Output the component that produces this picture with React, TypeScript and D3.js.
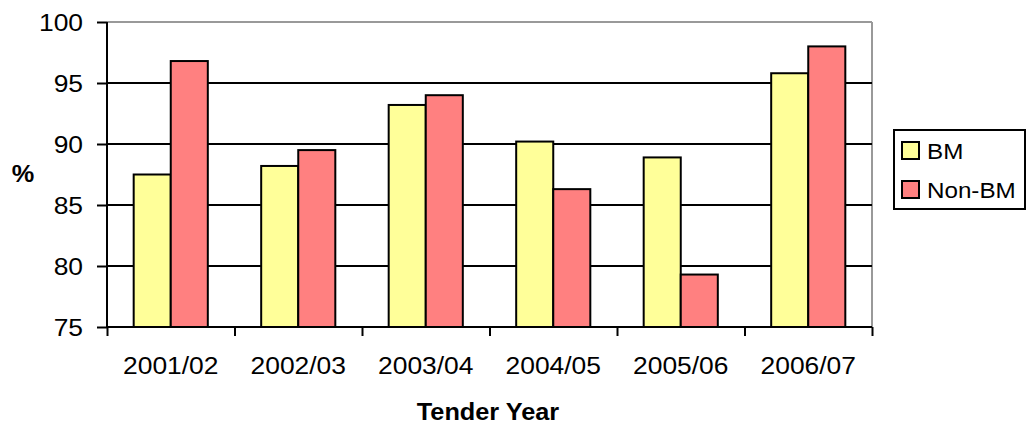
import { useEffect, useMemo, useRef } from "react";
import * as d3 from "d3";

const WIDTH = 1026;
const HEIGHT = 424;
const MARGIN = { top: 22, right: 154, bottom: 97, left: 107 };

const YEARS = ["2001/02", "2002/03", "2003/04", "2004/05", "2005/06", "2006/07"];
const SERIES = ["BM", "Non-BM"];
const BM = [87.5, 88.2, 93.2, 90.2, 88.9, 95.8];
const NON_BM = [96.8, 89.5, 94.0, 86.3, 79.3, 98.0];
const Y_TICKS = [75, 80, 85, 90, 95, 100];
const COLORS = ["#FFFF99", "#FF8080"];

const FONT = "'Liberation Sans', Arial, sans-serif";
// the source text is a little wider than Liberation Sans
const STRETCH = 1.1;

type TextProps = {
  x: number;
  y: number;
  size: number;
  anchor?: "start" | "middle" | "end";
  bold?: boolean;
  children: string;
};

const WideText = ({ x, y, size, anchor = "start", bold, children }: TextProps) => (
  <g transform={`translate(${x},${y}) scale(${STRETCH},1)`}>
    <text
      x={0}
      y={0}
      textAnchor={anchor}
      fontFamily={FONT}
      fontSize={size}
      fontWeight={bold ? "bold" : "normal"}
      fill="#000"
    >
      {children}
    </text>
  </g>
);

const App = () => {
  const xAxisRef = useRef(null);
  const yTickRef = useRef(null);
  const boundsWidth = WIDTH - MARGIN.left - MARGIN.right;
  const boundsHeight = HEIGHT - MARGIN.top - MARGIN.bottom;

  const xScale = useMemo(
    () => d3.scaleBand().domain(YEARS).range([0, boundsWidth]).padding(0),
    [boundsWidth]
  );
  const innerScale = useMemo(
    () =>
      d3
        .scaleBand()
        .domain(SERIES)
        .range([0, xScale.bandwidth()])
        .paddingInner(0)
        .paddingOuter(0.72),
    [xScale]
  );
  const yScale = useMemo(
    () => d3.scaleLinear().domain([75, 100]).range([boundsHeight, 0]),
    [boundsHeight]
  );

  useEffect(() => {
    const yg = d3.select(yTickRef.current);
    yg.selectAll("*").remove();
    yg.call(d3.axisLeft(yScale).tickValues(Y_TICKS).tickSize(10).tickFormat(() => ""));
    yg.select(".domain").remove();
    yg.selectAll(".tick line").attr("stroke", "#000").attr("stroke-width", 2);

    const xg = d3.select(xAxisRef.current);
    xg.selectAll("*").remove();
    const xTickScale = d3
      .scaleLinear()
      .domain([0, YEARS.length])
      .range([0, boundsWidth]);
    xg.call(
      d3
        .axisBottom(xTickScale)
        .tickValues(d3.range(0, YEARS.length + 1))
        .tickSize(9)
        .tickFormat(() => "")
    );
    xg.select(".domain").remove();
    xg.selectAll(".tick line").attr("stroke", "#000").attr("stroke-width", 2);
  }, [xScale, yScale, boundsWidth]);

  const bars = YEARS.flatMap((year, i) =>
    [BM[i], NON_BM[i]].map((v, j) => {
      const x = (xScale(year) ?? 0) + (innerScale(SERIES[j]) ?? 0);
      return (
        <rect
          key={year + j}
          x={x}
          y={yScale(v)}
          width={innerScale.bandwidth()}
          height={boundsHeight - yScale(v)}
          fill={COLORS[j]}
          stroke="#000"
          strokeWidth={2}
        />
      );
    })
  );

  return (
    <svg
      width={WIDTH}
      height={HEIGHT}
      style={{ position: "absolute", left: 0, top: 0, background: "#fff" }}
    >
      <g transform={`translate(${MARGIN.left},${MARGIN.top})`}>
        {/* plot frame, top and right sides grey */}
        <line x1={0} x2={boundsWidth} y1={0} y2={0} stroke="#999" strokeWidth={2} />
        <line x1={boundsWidth} x2={boundsWidth} y1={0} y2={boundsHeight} stroke="#999" strokeWidth={2} />
        {Y_TICKS.filter((t) => t !== 75 && t !== 100).map((t) => (
          <line
            key={t}
            x1={0}
            x2={boundsWidth}
            y1={yScale(t)}
            y2={yScale(t)}
            stroke="#000"
            strokeWidth={2}
          />
        ))}
        {bars}
        <line x1={0} x2={0} y1={0} y2={boundsHeight} stroke="#000" strokeWidth={2} />
        <line x1={0} x2={boundsWidth} y1={boundsHeight} y2={boundsHeight} stroke="#000" strokeWidth={2} />
        <g ref={yTickRef} />
        <g ref={xAxisRef} transform={`translate(0,${boundsHeight})`} />
        {Y_TICKS.map((t) => (
          <WideText key={t} x={-24} y={yScale(t) + 8.5} size={24} anchor="end">
            {String(t)}
          </WideText>
        ))}
        {YEARS.map((year) => (
          <WideText
            key={year}
            x={(xScale(year) ?? 0) + xScale.bandwidth() / 2}
            y={boundsHeight + 47}
            size={24}
            anchor="middle"
          >
            {year}
          </WideText>
        ))}
      </g>
      <WideText x={488} y={420} size={23} anchor="middle" bold>
        Tender Year
      </WideText>
      <WideText x={23} y={182} size={23} anchor="middle" bold>
        %
      </WideText>
      <g transform="translate(894,130)">
        <rect x={0} y={0} width={131} height={79} fill="#fff" stroke="#000" strokeWidth={2} />
        {SERIES.map((s, j) => (
          <g key={s} transform={`translate(8,${12 + j * 39})`}>
            <rect x={0} y={0} width={17} height={17} fill={COLORS[j]} stroke="#000" strokeWidth={2} />
            <WideText x={25} y={17} size={22}>
              {s}
            </WideText>
          </g>
        ))}
      </g>
    </svg>
  );
};

export default App;
